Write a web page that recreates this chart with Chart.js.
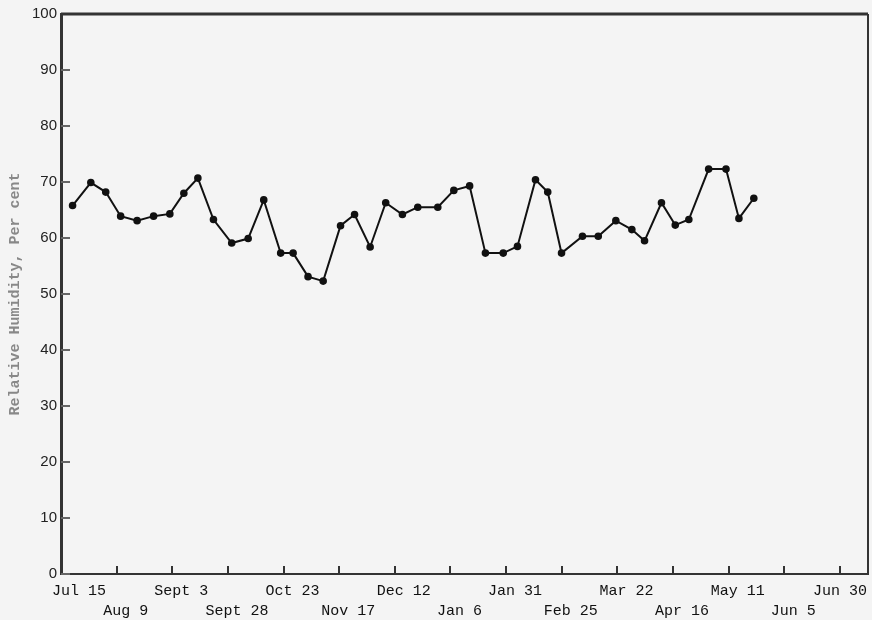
<!DOCTYPE html>
<html><head><meta charset="utf-8">
<script src="https://cdn.jsdelivr.net/npm/chart.js@4"></script>
<style>html,body{margin:0;padding:0;background:#f4f4f4}#wrap{width:872px;height:620px}</style>
</head><body><div id="wrap"><canvas id="c" width="872" height="620"></canvas></div>
<script>
// Days after Jul 15 for each observation
const dayOffsets = [5.2,13.4,20.1,26.8,34.2,41.6,48.9,55.2,61.5,68.5,76.7,84.1,91.1,98.7,104.3,111.0,117.8,125.6,131.9,138.9,145.9,153.4,160.3,169.3,176.5,183.6,190.7,198.7,205.1,213.2,218.7,224.9,234.3,241.4,249.3,256.5,262.2,269.8,276.0,282.1,291.0,298.8,304.6,311.3];
// Relative humidity, per cent
const humidity = [65.8,69.9,68.2,63.9,63.1,63.9,64.3,68.0,70.7,63.3,59.1,59.9,66.8,57.3,57.3,53.1,52.3,62.2,64.2,58.4,66.3,64.2,65.5,65.5,68.5,69.3,57.3,57.3,58.5,70.4,68.2,57.3,60.3,60.3,63.1,61.5,59.5,66.3,62.3,63.3,72.3,72.3,63.5,67.1];
const tickDays = [0,25,50,75,100,125,150,175,200,225,250,275,300,325,350];
const tickLabels = ["Jul 15","Aug 9","Sept 3","Sept 28","Oct 23","Nov 17","Dec 12","Jan 6","Jan 31","Feb 25","Mar 22","Apr 16","May 11","Jun 5","Jun 30"];
const yTickValues = [0,10,20,30,40,50,60,70,80,90,100];
const yTitle = "Relative Humidity, Per cent";

const points = dayOffsets.map((d, i) => ({x: d, y: humidity[i]}));

const framePlugin = {
  id: 'frame',
  afterDraw(chart) {
    const ctx = chart.ctx, a = chart.chartArea;
    const xs = chart.scales.x, ys = chart.scales.y;
    ctx.save();
    ctx.strokeStyle = '#333'; ctx.lineWidth = 2;
    tickDays.forEach(v => {
      if (v === 0) return;
      const px = Math.round(xs.getPixelForValue(v));
      ctx.beginPath(); ctx.moveTo(px, a.bottom); ctx.lineTo(px, a.bottom - 8); ctx.stroke();
    });
    ctx.strokeStyle = '#666';
    yTickValues.forEach(v => {
      const py = Math.round(ys.getPixelForValue(v));
      ctx.beginPath(); ctx.moveTo(a.left, py); ctx.lineTo(a.left + 9, py); ctx.stroke();
    });
    ctx.strokeStyle = '#333'; ctx.lineWidth = 3;
    ctx.beginPath(); ctx.moveTo(a.left, a.top); ctx.lineTo(a.right, a.top); ctx.stroke();
    ctx.lineWidth = 2;
    ctx.beginPath(); ctx.moveTo(a.right, a.top); ctx.lineTo(a.right, a.bottom); ctx.stroke();
    ctx.restore();
  }
};

new Chart(document.getElementById('c'), {
  type: 'scatter',
  data: { datasets: [{
    data: points,
    showLine: true,
    borderColor: '#111',
    backgroundColor: '#111',
    borderWidth: 2,
    pointRadius: 2.8,
    pointHoverRadius: 2.8,
    tension: 0
  }]},
  options: {
    responsive: false,
    animation: false,
    devicePixelRatio: 1,
    layout: { autoPadding: false, padding: { top: 14, right: 4, left: 0, bottom: 0 } },
    plugins: { legend: { display: false }, tooltip: { enabled: false } },
    scales: {
      x: {
        type: 'linear', min: 0, max: 362.6,
        afterBuildTicks(scale) { scale.ticks = tickDays.map(v => ({value: v})); },
        afterFit(scale) { scale.height = 46; scale.paddingLeft = 0; scale.paddingRight = 0; },
        grid: { display: true, drawOnChartArea: false, drawTicks: false, color: 'transparent' },
        border: { display: true, color: '#333', width: 2 },
        ticks: {
          autoSkip: false, maxRotation: 0, minRotation: 0, padding: 8, labelOffset: 9,
          color: '#111',
          font: { family: 'Liberation Mono', size: 15, lineHeight: 1.27 },
          callback(value) {
            const i = tickDays.indexOf(value);
            if (i < 0) return '';
            let s = tickLabels[i];
            if (i === 0) s = '  ' + s;
            if (i === tickLabels.length - 1) s = s + '  ';
            return i % 2 === 0 ? [s, ''] : ['', s];
          }
        }
      },
      y: {
        min: 0, max: 100,
        afterBuildTicks(scale) { scale.ticks = yTickValues.map(v => ({value: v})); },
        afterFit(scale) { scale.width = 61; },
        grid: { display: true, drawOnChartArea: false, drawTicks: false, color: 'transparent' },
        border: { display: true, color: '#333', width: 3 },
        ticks: {
          padding: 4, color: '#222',
          font: { family: 'Liberation Sans', size: 15 }
        },
        title: {
          display: true, text: yTitle, color: '#888',
          padding: { top: 6, bottom: 0 },
          font: { family: 'Liberation Mono', size: 15, weight: 'bold' }
        }
      }
    }
  },
  plugins: [framePlugin]
});
</script>
</body></html>
